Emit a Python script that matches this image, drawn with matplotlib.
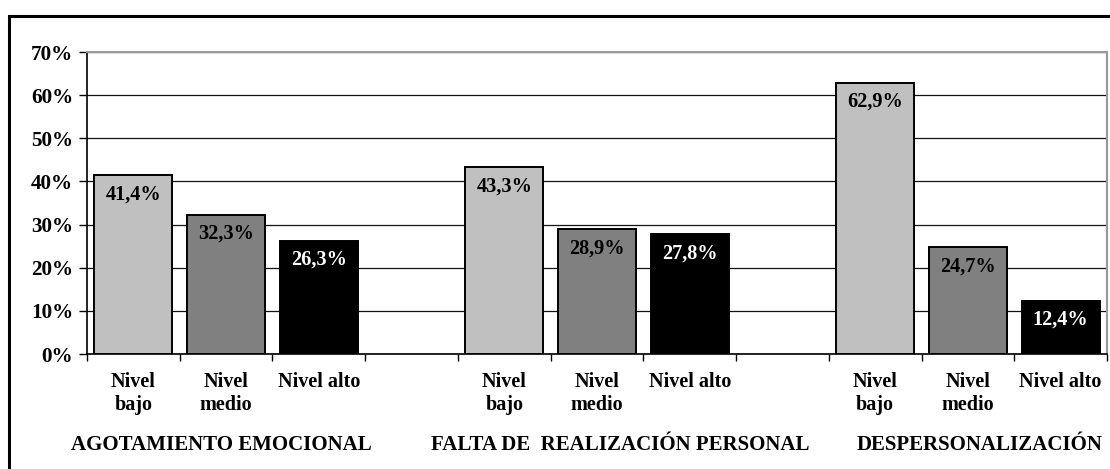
import matplotlib
matplotlib.use("Agg")
import matplotlib.pyplot as plt
from matplotlib.patches import Rectangle
from matplotlib.ticker import FixedLocator

plt.rcParams['font.family'] = ['Liberation Serif', 'DejaVu Serif']
plt.rcParams['font.weight'] = 'bold'

groups = ["AGOTAMIENTO EMOCIONAL", "FALTA DE  REALIZACIÓN PERSONAL", "DESPERSONALIZACIÓN"]
levels = ["Nivel\nbajo", "Nivel\nmedio", "Nivel alto"]
values = [
    [41.4, 32.3, 26.3],
    [43.3, 28.9, 27.8],
    [62.9, 24.7, 12.4],
]
colors = ["#C0C0C0", "#808080", "#000000"]
label_colors = ["black", "black", "white"]
yticks = [0, 10, 20, 30, 40, 50, 60, 70]

W, H = 1110, 469
fig = plt.figure(figsize=(W / 100, H / 100), dpi=100)
fig.patch.set_facecolor("white")

# outer frame
fig.patches.append(Rectangle((9 / W, -0.1), 1.2, (469 - 16) / H + 0.1,
                             transform=fig.transFigure, fill=False,
                             edgecolor="black", linewidth=2.2))

ax = fig.add_axes([87 / W, 115 / H, (1107 - 87) / W, (354 - 52) / H])

ncat = len(groups) * 4 - 1
positions, heights, fc, lc, xlabels = [], [], [], [], []
for g, vals in enumerate(values):
    for i, v in enumerate(vals):
        positions.append(g * 4 + i)
        heights.append(v)
        fc.append(colors[i])
        lc.append(label_colors[i])
        xlabels.append(levels[i])

bars = ax.bar(positions, heights, width=0.84, color=fc, edgecolor="black",
              linewidth=1.4, zorder=3)
for b, v, c in zip(bars, heights, lc):
    ax.annotate(f"{v:.1f}%".replace(".", ","),
                (b.get_x() + b.get_width() / 2, b.get_height()),
                xytext=(0, -14), textcoords="offset points",
                ha="center", va="center", fontsize=14.6, fontweight="bold",
                color=c, zorder=4)

ax.set_xlim(-0.5, ncat - 0.5)
ax.set_ylim(0, 70)
ax.set_yticks(yticks)
ax.set_yticklabels([f"{t}%" for t in yticks], fontsize=15.2, fontweight="bold")
ax.yaxis.grid(True, color="#111111", linewidth=0.9, zorder=0)
ax.set_axisbelow(True)

ax.set_xticks(positions)
ax.set_xticklabels(xlabels, fontsize=14.5, fontweight="bold", linespacing=1.2,
                   va="top")
ax.xaxis.set_minor_locator(FixedLocator([k - 0.5 for k in range(ncat + 1)]))
ax.tick_params(axis="x", which="major", length=0, pad=13)
ax.tick_params(axis="x", which="minor", length=5, width=1, direction="out")
ax.tick_params(axis="y", length=6, width=1, direction="out", pad=4)

for s in ["top", "right"]:
    ax.spines[s].set_color("#999999")
    ax.spines[s].set_linewidth(1.5)
ax.spines["left"].set_linewidth(1.2)
ax.spines["bottom"].set_linewidth(1.2)

# group titles
offsets = [-0.05, 0.25, 0.13]
for g, name in enumerate(groups):
    ax.text(g * 4 + 1 + offsets[g], -0.30, name, transform=ax.get_xaxis_transform(),
            ha="center", va="center", fontsize=15, fontweight="bold")

fig.savefig("out.png", dpi=100, facecolor="white")
